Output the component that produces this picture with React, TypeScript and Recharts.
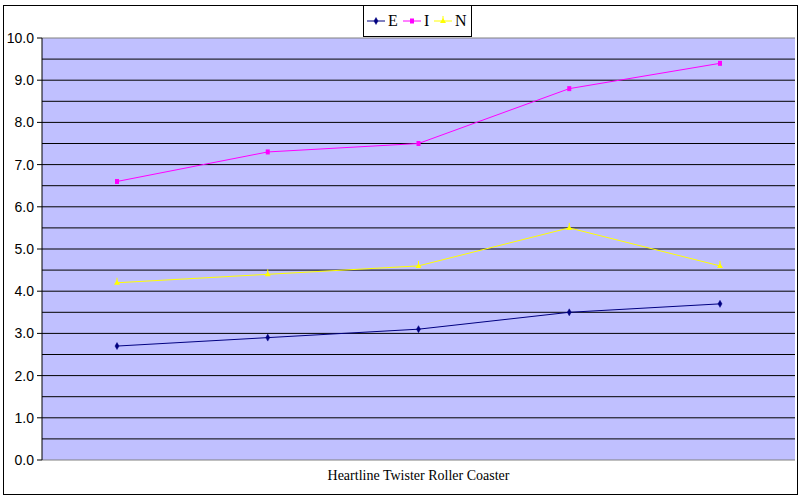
import { LineChart, Line, XAxis, YAxis, CartesianGrid, Legend, ReferenceLine, Label } from "recharts";

const categories = ["1", "2", "3", "4", "5"];
const seriesE = [2.7, 2.9, 3.1, 3.5, 3.7];
const seriesI = [6.6, 7.3, 7.5, 8.8, 9.4];
const seriesN = [4.2, 4.4, 4.6, 5.5, 4.6];
const yTicks = [0, 1, 2, 3, 4, 5, 6, 7, 8, 9, 10];
const gridValues = [0.5, 1, 1.5, 2, 2.5, 3, 3.5, 4, 4.5, 5, 5.5, 6, 6.5, 7, 7.5, 8, 8.5, 9, 9.5];
const xTitle = "Heartline Twister Roller Coaster";

const data = categories.map((c, i) => ({ cat: c, E: seriesE[i], I: seriesI[i], N: seriesN[i] }));

const SERIES = [
  { key: "E", color: "#000080", shape: "diamond" },
  { key: "I", color: "#FF00FF", shape: "square" },
  { key: "N", color: "#FFFF00", shape: "triangle" },
];

function Marker({ cx, cy, shape, color }: { cx: number; cy: number; shape: string; color: string }) {
  if (cx == null || cy == null) return null;
  if (shape === "diamond") {
    return <path d={`M${cx},${cy - 3.5} L${cx + 2},${cy} L${cx},${cy + 3.5} L${cx - 2},${cy} Z`} fill={color} stroke={color} strokeWidth={0.5} />;
  }
  if (shape === "square") {
    return <rect x={cx - 2} y={cy - 2.5} width={4} height={5} fill={color} />;
  }
  return (
    <g>
      <path d={`M${cx},${cy - 3} L${cx + 3},${cy + 2} L${cx - 3},${cy + 2} Z`} fill={color} />
      <line x1={cx} y1={cy - 5} x2={cx} y2={cy} stroke={color} />
    </g>
  );
}

function LegendBox() {
  let x = 4;
  const items = SERIES.map((s) => {
    const lx = x;
    const tx = lx + 21;
    x = tx + (s.key === "I" ? 10 : s.key === "N" ? 16 : 15);
    return (
      <g key={s.key}>
        <line x1={lx} y1={16} x2={lx + 18} y2={16} stroke={s.color} strokeWidth={1} />
        <Marker cx={lx + 9} cy={16} shape={s.shape} color={s.color} />
        <text x={tx} y={21} fontFamily="'Liberation Serif', 'Times New Roman', serif" fontSize={16} fill="#000">
          {s.key}
        </text>
      </g>
    );
  });
  return (
    <svg width={110} height={33} style={{ display: "block" }}>
      <rect x={0.5} y={0.5} width={108} height={31} fill="#fff" stroke="#000" />
      {items}
    </svg>
  );
}

export default function App() {
  return (
    <div style={{ position: "absolute", left: 0, top: 0, width: 800, height: 500, background: "#fff" }}>
      <div
        style={{ position: "absolute", left: 3, top: 5, width: 793, height: 488, border: "1px solid #000" }}
      />
      <LineChart width={800} height={500} data={data} margin={{ top: 5, right: 5, left: 0, bottom: 10 }}>
        <CartesianGrid
          vertical={false}
          horizontalValues={gridValues}
          stroke="#000"
          fill="#C0C0FF"
          fillOpacity={1}
        />
        <Legend
          verticalAlign="top"
          height={33}
          wrapperStyle={{ left: 363, top: 5, width: 110 }}
          content={() => <LegendBox />}
        />
        <XAxis
          dataKey="cat"
          tick={false}
          tickLine={false}
          height={30}
          padding={{ left: 75, right: 75 }}
          axisLine={{ stroke: "#808080" }}
        >
          <Label
            value={xTitle}
            position="center"
            style={{ fontFamily: "'Liberation Serif', 'Times New Roman', serif", fontSize: 14, fill: "#000" }}
          />
        </XAxis>
        <YAxis
          domain={[0, 10]}
          ticks={yTicks}
          width={42}
          interval={0}
          tickSize={5}
          tickMargin={3}
          tickFormatter={(v: number) => v.toFixed(1)}
          axisLine={{ stroke: "#000" }}
          tickLine={{ stroke: "#000" }}
          tick={{ fill: "#000", fontSize: 14, fontFamily: "'Liberation Sans', Arial, sans-serif" }}
        />
        <ReferenceLine y={10} stroke="#808080" />
        {SERIES.map((s) => (
          <Line
            key={s.key}
            dataKey={s.key}
            type="linear"
            stroke={s.color}
            strokeWidth={1}
            isAnimationActive={false}
            dot={(p: any) => <Marker key={`${s.key}-${p.index}`} cx={p.cx} cy={p.cy} shape={s.shape} color={s.color} />}
            activeDot={false}
          />
        ))}
      </LineChart>
    </div>
  );
}
